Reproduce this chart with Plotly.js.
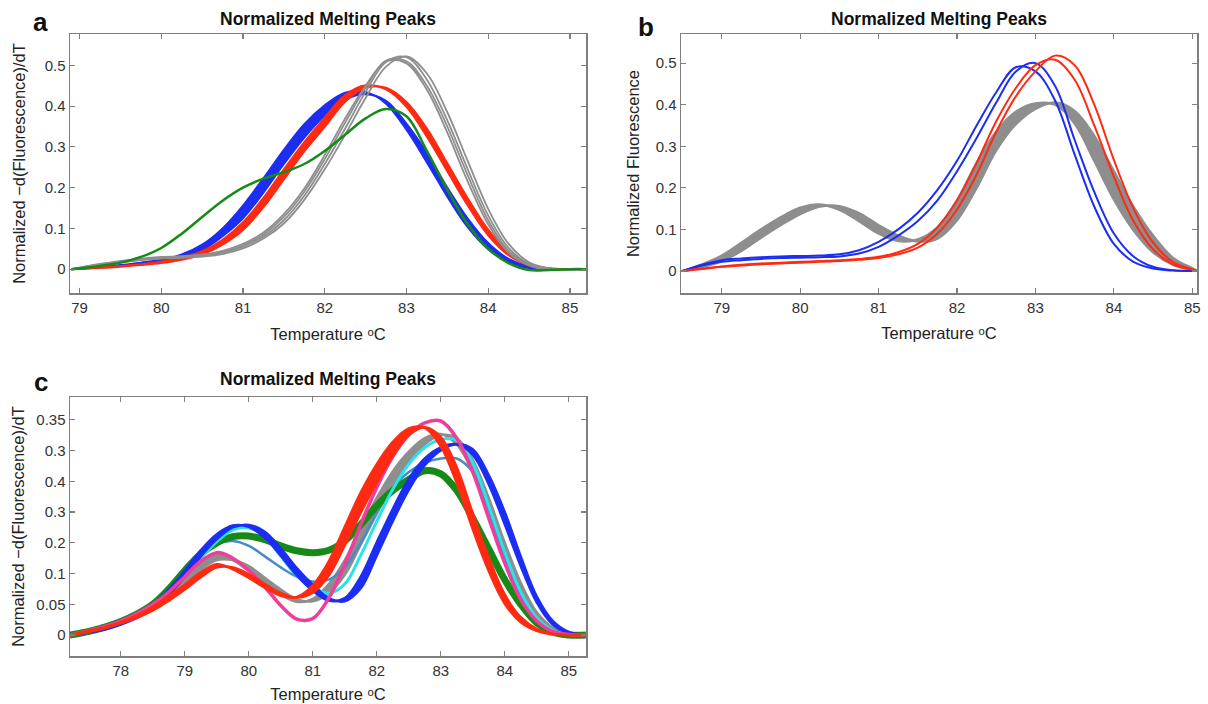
<!DOCTYPE html>
<html>
<head>
<meta charset="utf-8">
<script src="https://cdn.plot.ly/plotly-3.0.1.min.js"></script>
<style>html,body{margin:0;padding:0;background:#fff;}#chart{width:1208px;height:704px;}</style>
</head>
<body>
<div id="chart"></div>
<script>
// ---------- Panel a data ----------
const xA = [78.9, 79.25, 79.5, 79.75, 80, 80.25, 80.5, 80.75, 81, 81.25, 81.5, 81.75, 82, 82.25, 82.5, 82.75, 83, 83.25, 83.5, 83.75, 84, 84.25, 84.5, 84.75, 85, 85.2];
const aBlueL = [0, 0.006, 0.01, 0.016, 0.023, 0.036, 0.06, 0.1, 0.156, 0.223, 0.293, 0.356, 0.402, 0.433, 0.435, 0.406, 0.342, 0.262, 0.178, 0.103, 0.049, 0.017, 0.003, 0, 0, 0];
const aBlueR = [0, 0.004, 0.008, 0.012, 0.018, 0.028, 0.047, 0.081, 0.125, 0.188, 0.258, 0.323, 0.377, 0.416, 0.429, 0.413, 0.357, 0.285, 0.2, 0.124, 0.064, 0.025, 0.006, 0.001, 0, 0];
const aRedL = [0, 0.005, 0.008, 0.012, 0.019, 0.028, 0.044, 0.072, 0.115, 0.175, 0.245, 0.312, 0.372, 0.427, 0.451, 0.441, 0.398, 0.325, 0.24, 0.156, 0.083, 0.034, 0.009, 0.001, 0, 0];
const aRedR = [0, 0.003, 0.006, 0.01, 0.015, 0.023, 0.036, 0.06, 0.096, 0.152, 0.22, 0.289, 0.349, 0.411, 0.445, 0.445, 0.41, 0.345, 0.26, 0.174, 0.097, 0.042, 0.012, 0.002, 0, 0];
const aGray1 = [0, 0.013, 0.02, 0.026, 0.03, 0.032, 0.036, 0.045, 0.062, 0.09, 0.135, 0.198, 0.28, 0.37, 0.45, 0.51, 0.505, 0.44, 0.335, 0.215, 0.11, 0.04, 0.009, -0.002, -0.002, 0];
const aGray2 = [0, 0.012, 0.018, 0.024, 0.028, 0.031, 0.034, 0.042, 0.058, 0.085, 0.128, 0.19, 0.27, 0.36, 0.445, 0.512, 0.51, 0.45, 0.35, 0.23, 0.12, 0.045, 0.01, -0.001, -0.002, 0];
const aGray3 = [0, 0.011, 0.017, 0.023, 0.027, 0.03, 0.033, 0.04, 0.055, 0.08, 0.12, 0.18, 0.258, 0.345, 0.435, 0.508, 0.52, 0.465, 0.365, 0.245, 0.132, 0.052, 0.013, 0, -0.002, 0];
const aGray4 = [0, 0.01, 0.016, 0.022, 0.026, 0.028, 0.031, 0.037, 0.051, 0.075, 0.112, 0.17, 0.245, 0.33, 0.42, 0.497, 0.522, 0.48, 0.385, 0.265, 0.148, 0.062, 0.017, 0.002, -0.001, 0];
const aGreen = [0, 0.008, 0.016, 0.03, 0.052, 0.087, 0.128, 0.168, 0.2, 0.222, 0.238, 0.258, 0.29, 0.33, 0.37, 0.393, 0.375, 0.29, 0.195, 0.11, 0.05, 0.015, -0.002, -0.002, 0, 0];

// ---------- Panel b data ----------
const xB = [78.5, 78.75, 79, 79.25, 79.5, 79.75, 80, 80.25, 80.5, 80.75, 81, 81.25, 81.5, 81.75, 82, 82.25, 82.5, 82.75, 83, 83.25, 83.5, 83.75, 84, 84.25, 84.5, 84.75, 85, 85.06];
const bGrayL = [0, 0.016, 0.037, 0.068, 0.1, 0.129, 0.152, 0.16, 0.147, 0.12, 0.09, 0.072, 0.076, 0.105, 0.17, 0.26, 0.335, 0.383, 0.403, 0.4, 0.355, 0.265, 0.172, 0.098, 0.045, 0.015, 0.002, 0];
const bGrayR = [0, 0.009, 0.024, 0.048, 0.08, 0.11, 0.137, 0.155, 0.156, 0.139, 0.11, 0.085, 0.071, 0.078, 0.122, 0.2, 0.29, 0.353, 0.39, 0.405, 0.385, 0.325, 0.24, 0.155, 0.085, 0.032, 0.006, 0];
const bBlue1 = [0, 0.015, 0.026, 0.03, 0.033, 0.035, 0.036, 0.037, 0.04, 0.05, 0.07, 0.1, 0.14, 0.195, 0.265, 0.35, 0.43, 0.49, 0.48, 0.41, 0.28, 0.155, 0.065, 0.022, 0.006, 0.001, 0, 0];
const bBlue2 = [0, 0.013, 0.022, 0.026, 0.029, 0.031, 0.032, 0.033, 0.035, 0.042, 0.058, 0.085, 0.12, 0.17, 0.24, 0.32, 0.405, 0.48, 0.5, 0.445, 0.315, 0.19, 0.09, 0.035, 0.01, 0.002, 0, 0];
const bRed1 = [0, 0.006, 0.011, 0.015, 0.018, 0.02, 0.022, 0.024, 0.026, 0.029, 0.034, 0.045, 0.065, 0.105, 0.17, 0.26, 0.36, 0.44, 0.495, 0.508, 0.46, 0.35, 0.227, 0.12, 0.052, 0.016, 0.003, 0];
const bRed2 = [0, 0.005, 0.01, 0.013, 0.016, 0.018, 0.02, 0.022, 0.024, 0.027, 0.031, 0.04, 0.056, 0.09, 0.148, 0.232, 0.335, 0.42, 0.48, 0.518, 0.495, 0.4, 0.267, 0.15, 0.068, 0.022, 0.004, 0];

// ---------- Panel c data ----------
const xC = [77.2, 77.5, 77.75, 78, 78.25, 78.5, 78.75, 79, 79.25, 79.5, 79.75, 80, 80.25, 80.5, 80.75, 81, 81.25, 81.5, 81.75, 82, 82.25, 82.5, 82.75, 83, 83.25, 83.5, 83.75, 84, 84.25, 84.5, 84.75, 85, 85.27];
const cGrayL = [0, 0.007, 0.014, 0.024, 0.037, 0.054, 0.073, 0.096, 0.118, 0.13, 0.122, 0.104, 0.083, 0.066, 0.054, 0.059, 0.083, 0.122, 0.173, 0.223, 0.266, 0.298, 0.32, 0.327, 0.31, 0.265, 0.197, 0.126, 0.066, 0.027, 0.008, 0.001, 0];
const cGrayR = [0, 0.005, 0.012, 0.02, 0.031, 0.046, 0.063, 0.084, 0.106, 0.122, 0.122, 0.112, 0.093, 0.074, 0.058, 0.055, 0.068, 0.098, 0.147, 0.197, 0.244, 0.282, 0.31, 0.325, 0.32, 0.285, 0.223, 0.15, 0.085, 0.037, 0.012, 0.002, 0];
const cSteel = [0, 0.006, 0.012, 0.02, 0.032, 0.048, 0.07, 0.098, 0.127, 0.148, 0.153, 0.145, 0.128, 0.11, 0.095, 0.087, 0.09, 0.11, 0.15, 0.2, 0.24, 0.265, 0.28, 0.287, 0.287, 0.265, 0.205, 0.13, 0.068, 0.027, 0.008, 0.001, 0];
const cGreen = [0, 0.006, 0.013, 0.022, 0.034, 0.05, 0.075, 0.105, 0.132, 0.15, 0.16, 0.161, 0.155, 0.145, 0.137, 0.134, 0.138, 0.153, 0.18, 0.21, 0.235, 0.253, 0.267, 0.262, 0.235, 0.19, 0.14, 0.09, 0.05, 0.02, 0.005, 0, 0];
const cCyan = [0, 0.006, 0.012, 0.02, 0.032, 0.047, 0.068, 0.095, 0.125, 0.152, 0.171, 0.174, 0.16, 0.128, 0.097, 0.078, 0.068, 0.083, 0.13, 0.185, 0.237, 0.278, 0.305, 0.318, 0.317, 0.28, 0.21, 0.135, 0.07, 0.028, 0.008, 0.001, 0];
const cBlueL = [0, 0.006, 0.011, 0.019, 0.032, 0.049, 0.074, 0.105, 0.138, 0.164, 0.178, 0.176, 0.158, 0.129, 0.097, 0.072, 0.056, 0.06, 0.095, 0.151, 0.205, 0.254, 0.287, 0.305, 0.31, 0.293, 0.245, 0.18, 0.112, 0.053, 0.017, 0.003, 0];
const cBlueR = [0, 0.004, 0.009, 0.017, 0.028, 0.043, 0.066, 0.095, 0.128, 0.156, 0.175, 0.179, 0.168, 0.141, 0.109, 0.082, 0.06, 0.055, 0.076, 0.129, 0.185, 0.236, 0.276, 0.3, 0.31, 0.302, 0.26, 0.2, 0.128, 0.063, 0.023, 0.005, 0];
const cPink = [0, 0.007, 0.014, 0.023, 0.035, 0.05, 0.07, 0.095, 0.12, 0.134, 0.125, 0.105, 0.078, 0.048, 0.026, 0.027, 0.06, 0.115, 0.18, 0.24, 0.29, 0.325, 0.345, 0.348, 0.32, 0.265, 0.19, 0.117, 0.058, 0.023, 0.006, 0.001, 0];
const cRedL = [0, 0.007, 0.013, 0.021, 0.032, 0.046, 0.064, 0.082, 0.102, 0.115, 0.107, 0.093, 0.077, 0.064, 0.062, 0.081, 0.12, 0.176, 0.232, 0.278, 0.314, 0.336, 0.337, 0.307, 0.247, 0.172, 0.104, 0.051, 0.021, 0.007, 0.001, 0, 0];
const cRedR = [0, 0.005, 0.011, 0.019, 0.028, 0.04, 0.056, 0.074, 0.094, 0.11, 0.11, 0.099, 0.083, 0.068, 0.061, 0.069, 0.097, 0.146, 0.199, 0.248, 0.291, 0.325, 0.338, 0.322, 0.273, 0.198, 0.126, 0.066, 0.029, 0.01, 0.002, 0, 0];

// tick labels and texts
const cTickVals = [0, 0.05, 0.1, 0.15, 0.2, 0.25, 0.3, 0.35];
const cTickText = ['0', '0.05', '0.1', '0.2', '0.3', '0.4', '0.3', '0.35'];
const titleText = 'Normalized Melting Peaks';
const panelLetters = ['a', 'b', 'c'];
const xTitle = 'Temperature \u1D52C';
const yTitleDeriv = 'Normalized \u2212d(Fluorescence)/dT';
const yTitleFluor = 'Normalized Fluorescence';

// ---------- colours ----------
const C = {
  blue: '#1c2ef2', red: '#ff2a12', gray: '#8e8e8e', green: '#168a16',
  pink: '#f23c9c', cyan: '#24e4ee', steel: '#4a8ac6'
};

const traces = [];
function line(x, y, xa, ya, color, width, opts) {
  const t = {x: x, y: y, xaxis: xa, yaxis: ya, type: 'scatter', mode: 'lines',
    line: {color: color, width: width, shape: 'spline', smoothing: 1}, hoverinfo: 'skip'};
  if (opts) Object.assign(t, opts);
  traces.push(t);
}
function band(x, yL, yR, xa, ya, color, width) {
  line(x, yL, xa, ya, color, width);
  line(x, yR, xa, ya, color, width, {fill: 'tonexty', fillcolor: color});
}

// panel a
band(xA, aBlueL, aBlueR, 'x', 'y', C.blue, 2);
band(xA, aRedL, aRedR, 'x', 'y', C.red, 2);
[aGray1, aGray2, aGray3, aGray4].forEach(g => line(xA, g, 'x', 'y', C.gray, 1.8));
line(xA, aGreen, 'x', 'y', C.green, 2.5);

// panel b
band(xB, bGrayL, bGrayR, 'x2', 'y2', C.gray, 2.5);
line(xB, bBlue1, 'x2', 'y2', C.blue, 2);
line(xB, bBlue2, 'x2', 'y2', C.blue, 2);
line(xB, bRed1, 'x2', 'y2', C.red, 2);
line(xB, bRed2, 'x2', 'y2', C.red, 2);

// panel c
band(xC, cGrayL, cGrayR, 'x3', 'y3', C.gray, 2.5);
line(xC, cSteel, 'x3', 'y3', C.steel, 2.5);
line(xC, cGreen, 'x3', 'y3', C.green, 7);
line(xC, cCyan, 'x3', 'y3', C.cyan, 3);
band(xC, cBlueL, cBlueR, 'x3', 'y3', C.blue, 2.5);
line(xC, cPink, 'x3', 'y3', C.pink, 3.5);
band(xC, cRedL, cRedR, 'x3', 'y3', C.red, 2.5);

const W = 1208, H = 704;
const px = v => v / W;
const py = v => 1 - v / H;
const FONT = 'Liberation Sans, Arial, Helvetica, DejaVu Sans, sans-serif';
const titleFont = {family: FONT, size: 16.5, color: '#222'};

function axis(domain, range, title, standoff, extra) {
  return Object.assign({
    domain: domain, range: range, showline: true, mirror: 'ticks',
    linecolor: '#7f7f7f', linewidth: 1.5, ticks: 'inside', ticklen: 5,
    tickcolor: '#7f7f7f', tickwidth: 1.2, showgrid: false, zeroline: false,
    tickfont: {family: FONT, size: 15, color: '#333'}, fixedrange: true, automargin: false,
    title: {text: title, font: titleFont, standoff: standoff}
  }, extra || {});
}

const xDomL = [px(70), px(586)], xDomR = [px(681), px(1197)];
const yDomTop = [py(293), py(34)], yDomBot = [py(656), py(397)];

function ann(text, x, y, size) {
  return {text: text, x: px(x), y: py(y), xref: 'paper', yref: 'paper',
    xanchor: 'center', yanchor: 'middle', showarrow: false,
    font: {family: FONT, size: size, color: '#111', weight: 700}};
}

const layout = {
  width: W, height: H, margin: {l: 0, r: 0, t: 0, b: 0},
  paper_bgcolor: '#fff', plot_bgcolor: '#fff', showlegend: false,
  xaxis: axis(xDomL, [78.883, 85.197], xTitle, 14, {anchor: 'y', dtick: 1, tick0: 0}),
  yaxis: axis(yDomTop, [-0.0585, 0.577], yTitleDeriv, 15, {anchor: 'x', dtick: 0.1, tick0: 0}),
  xaxis2: axis(xDomR, [78.48, 85.06], xTitle, 13, {anchor: 'y2', dtick: 1, tick0: 0}),
  yaxis2: axis(yDomTop, [-0.053, 0.57], yTitleFluor, 12, {anchor: 'x2', dtick: 0.1, tick0: 0}),
  xaxis3: axis(xDomL, [77.205, 85.27], xTitle, 11, {anchor: 'y3', dtick: 1, tick0: 0}),
  yaxis3: axis(yDomBot, [-0.034, 0.387], yTitleDeriv, 7, {anchor: 'x3', tickmode: 'array', tickvals: cTickVals, ticktext: cTickText}),
  annotations: [
    ann(titleText, 328, 19, 17.5),
    ann(titleText, 939, 19, 17.5),
    ann(titleText, 328, 379, 17.5),
    ann(panelLetters[0], 40, 22, 26),
    ann(panelLetters[1], 646, 27, 26),
    ann(panelLetters[2], 41, 382, 26)
  ]
};

Plotly.newPlot('chart', traces, layout, {displayModeBar: false, staticPlot: true});
</script>
</body>
</html>
